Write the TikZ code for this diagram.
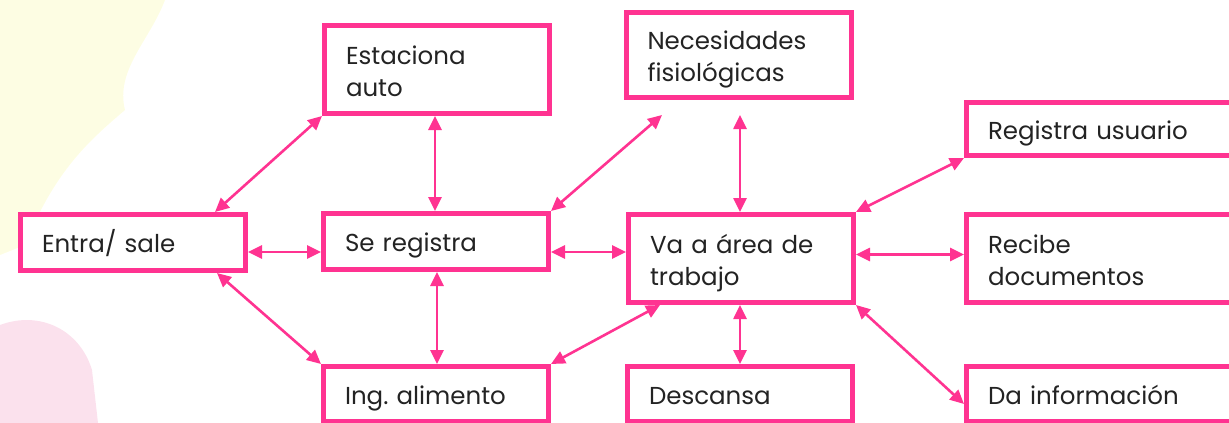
\documentclass[tikz,border=0pt]{standalone}
\usepackage{fontspec}
\setmainfont{Poppins}
\usetikzlibrary{arrows.meta,calc}
\definecolor{pinkline}{RGB}{255,51,145}
\definecolor{txt}{RGB}{35,35,35}
\definecolor{paleyellow}{RGB}{252,252,200}
\definecolor{palepink}{RGB}{247,196,220}
\tikzset{
  x=1pt,y=-1pt,
  box/.style={draw=pinkline, line width=5pt, fill=white, align=left,
    inner xsep=21.5pt, inner ysep=0pt, text=txt, text height=20pt,
    font=\fontsize{24.5}{32}\selectfont},
  one/.style={text depth=0pt},
  two/.style={text depth=31pt},
  boxs/.style={box, minimum width=225pt, text width=182pt},
  boxw/.style={box, minimum width=285pt, text width=242pt},
  link/.style={draw=pinkline, line width=2.6pt,
    {Triangle[length=14pt,width=13pt]}-{Triangle[length=14pt,width=13pt]}}
}
\begin{document}
\begin{tikzpicture}
\useasboundingbox (0,0) rectangle (1229,423);
\clip (0,0) rectangle (1229,423);
% faint background decoration
\fill[paleyellow, opacity=0.5] (0,0) -- (165,0) .. controls (150,40) and (115,70) .. (125,110)
  .. controls (90,140) and (55,170) .. (25,245) -- (0,255) -- cycle;
\fill[palepink, opacity=0.5] (0,325) .. controls (40,310) and (80,330) .. (92,370)
  -- (98,423) -- (0,423) -- cycle;
% boxes
\node[boxs, one, minimum height=56pt] (entra) at (133,242.5) {Entra/ sale};
\node[boxs, two, minimum height=88pt] (estac) at (437,69.5) {Estaciona\\auto};
\node[boxs, one, minimum height=56pt] (sereg) at (436,241.5) {Se registra};
\node[boxs, one, minimum height=55pt] (ing) at (436,394) {Ing.\ alimento};
\node[boxs, two, minimum width=224pt, minimum height=85pt] (neces) at (738.5,55) {Necesidades\\fisiológicas};
\node[boxs, two, minimum height=88pt] (va) at (741,258.5) {Va a área de\\trabajo};
\node[boxs, one, minimum height=55pt] (desc) at (740,394) {Descansa};
\node[boxw, one, minimum height=53pt] (reg) at (1109,129) {Registra usuario};
\node[boxw, two, minimum height=88pt] (rec) at (1109,258.5) {Recibe\\documentos};
\node[boxw, one, minimum height=55pt] (da) at (1109,394) {Da información};
% free arrow ends below Necesidades
\coordinate (necesL) at (662,115);
\coordinate (necesB) at (740,115);
% connectors
\draw[link] ([xshift=-33pt]entra.north east) -- (estac.south west);
\draw[link] ([yshift=-9.5pt]entra.east) -- ([yshift=-10.5pt]sereg.west);
\draw[link] ([xshift=-31pt]entra.south east) -- (ing.north west);
\draw[link] ([xshift=-2pt]estac.south) -- ([xshift=-1pt]sereg.north);
\draw[link] ([xshift=1pt]sereg.south) -- ([xshift=1pt]ing.north);
\draw[link] (sereg.north east) -- (necesL);
\draw[link] ([yshift=-10.5pt]sereg.east) -- ([yshift=6.5pt]va.west);
\draw[link] (ing.north east) -- ([xshift=34pt]va.south west);
\draw[link] (necesB) -- ([xshift=-1pt]va.north);
\draw[link] ([xshift=-1pt]va.south) -- (desc.north);
\draw[link] (va.north east) -- (reg.south west);
\draw[link] ([yshift=4pt]va.east) -- ([yshift=4pt]rec.west);
\draw[link] (va.south east) -- ([yshift=-10pt]da.west);
\end{tikzpicture}
\end{document}
